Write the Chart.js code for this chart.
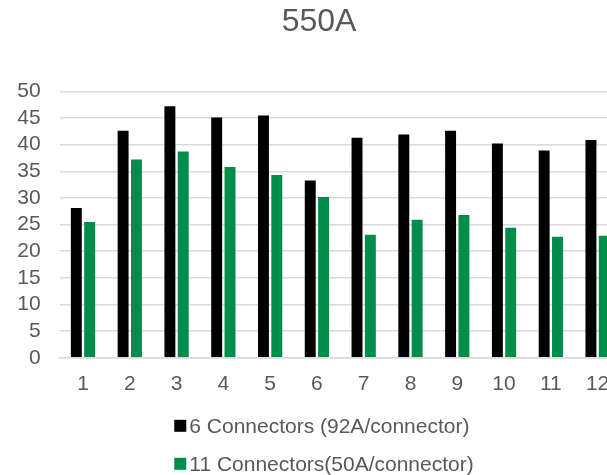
<!DOCTYPE html>
<html>
<head>
<meta charset="utf-8">
<script src="https://cdn.jsdelivr.net/npm/chart.js@4/dist/chart.umd.min.js"></script>
<style>
  html, body { margin: 0; padding: 0; background: #ffffff; overflow: hidden; width: 607px; height: 475px; }
  #wrap { position: absolute; left: 0; top: 0; width: 666px; height: 475px; }
</style>
</head>
<body>
<div id="wrap"><canvas id="c" width="666" height="475"></canvas></div>
<script>
// Chart content
const chartTitle = '550A';
const categories = ['1', '2', '3', '4', '5', '6', '7', '8', '9', '10', '11', '12'];
const seriesNames = ['6 Connectors (92A/connector)', '11 Connectors(50A/connector)'];
const sixConnectors = [28.1, 42.6, 47.2, 45.1, 45.5, 33.3, 41.3, 41.9, 42.6, 40.2, 38.9, 40.9];
const elevenConnectors = [25.5, 37.2, 38.7, 35.8, 34.3, 30.2, 23.1, 25.9, 26.8, 24.4, 22.7, 22.9];
const seriesColors = ['#000000', '#008C4B'];

const textColor = '#595959';
const gridColor = '#d9d9d9';
const fontFamily = '"Liberation Sans", Arial, sans-serif';

// Two-row legend drawn under the axis, one entry per line
const stackedLegend = {
  id: 'stackedLegend',
  afterDraw(chart) {
    const ctx = chart.ctx;
    const box = 12;
    const rowGap = 38;
    const top = chart.chartArea.bottom + 68;
    ctx.save();
    ctx.font = '21px ' + fontFamily;
    const widest = Math.max(...chart.data.datasets.map(d => ctx.measureText(d.label).width));
    const blockW = box + 3 + widest;
    const left = chart.width / 2 - blockW / 2 - 9;
    chart.data.datasets.forEach((ds, i) => {
      const y = top + i * rowGap;
      ctx.fillStyle = ds.backgroundColor;
      ctx.fillRect(left, y - box / 2, box, box);
      ctx.fillStyle = textColor;
      ctx.textAlign = 'left';
      ctx.textBaseline = 'middle';
      ctx.fillText(ds.label, left + box + 3, y + 1);
    });
    ctx.restore();
  }
};

new Chart(document.getElementById('c'), {
  type: 'bar',
  data: {
    labels: categories,
    datasets: [
      { label: seriesNames[0], data: sixConnectors, backgroundColor: seriesColors[0] },
      { label: seriesNames[1], data: elevenConnectors, backgroundColor: seriesColors[1] }
    ]
  },
  options: {
    responsive: false,
    animation: false,
    devicePixelRatio: 1,
    layout: { padding: { left: 17, right: 45, top: 0, bottom: 64 } },
    datasets: {
      bar: { categoryPercentage: 0.57, barPercentage: 0.82, borderWidth: 0 }
    },
    plugins: {
      legend: { display: false },
      tooltip: { enabled: false },
      title: {
        display: true,
        text: chartTitle,
        color: textColor,
        font: { family: fontFamily, size: 32, weight: 'normal' },
        padding: { top: 3, bottom: 50 }
      }
    },
    scales: {
      x: {
        grid: { display: false, drawTicks: false },
        border: { display: true, color: gridColor, width: 1.5 },
        ticks: { color: textColor, font: { family: fontFamily, size: 21 }, padding: 14, maxRotation: 0, autoSkip: false }
      },
      y: {
        min: 0,
        max: 50,
        grid: { color: gridColor, lineWidth: 1.5, drawTicks: false },
        border: { display: false },
        ticks: { stepSize: 5, autoSkip: false, color: textColor, font: { family: fontFamily, size: 21 }, padding: 19 },
        afterFit(scale) { scale.width = 42.6; }
      }
    }
  },
  plugins: [stackedLegend]
});
</script>
</body>
</html>
